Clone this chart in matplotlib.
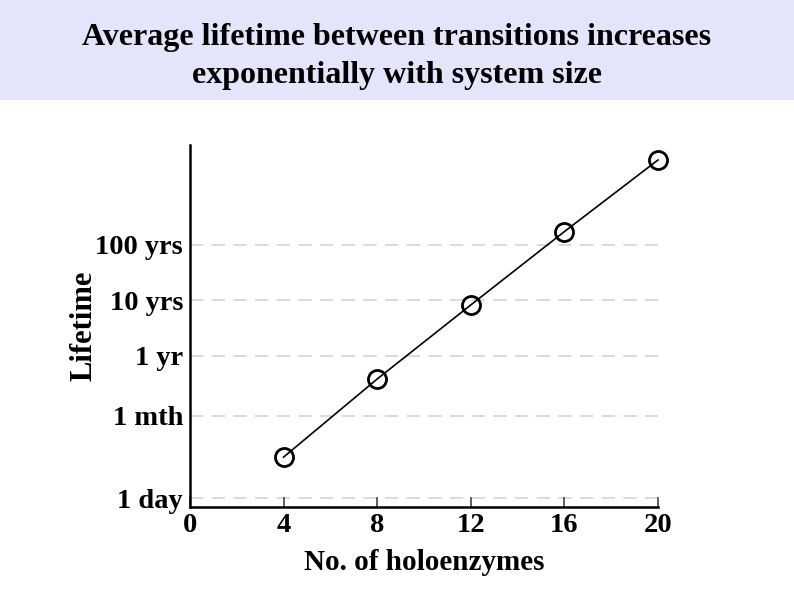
import matplotlib
matplotlib.use("Agg")
import matplotlib.pyplot as plt
import numpy as np

# Lifetime values, in years
n_holo = [4, 8, 12, 16, 20]
lifetime_yrs = [0.0151, 0.385, 8.3, 174, 3390]

tick_vals = [1 / 365.0, 1 / 12.0, 1.0, 10.0, 100.0]
tick_labels = ["1 day", "1 mth", "1 yr", "10 yrs", "100 yrs"]
x_ticks = [0, 4, 8, 12, 16, 20]

plt.rcParams['font.family'] = ['Liberation Serif', 'DejaVu Serif']
plt.rcParams['font.weight'] = 'bold'

fig = plt.figure(figsize=(7.94, 5.95), dpi=100)

# title band
band = fig.add_axes([0, 1 - 100 / 595, 1, 100 / 595])
band.set_facecolor('#e4e4fa')
band.set_xticks([])
band.set_yticks([])
for s in band.spines.values():
    s.set_visible(False)
fig.text(0.5, 1 - 37 / 595, "Average lifetime between transitions increases",
         ha='center', va='center', fontsize=23, fontweight='bold')
fig.text(0.5, 1 - 75 / 595, "exponentially with system size",
         ha='center', va='center', fontsize=23, fontweight='bold')

ax = fig.add_axes([190 / 794, 88 / 595, 468 / 794, 362 / 595])
ax.set_yscale('log')
ax.set_xlim(0, 20)
ax.set_ylim(10 ** -2.72, 10 ** 3.80)

for v in tick_vals:
    ax.axhline(v, color='#d4d4d4', lw=1.2, ls=(0, (8, 5)), zorder=1)

ax.plot(n_holo, lifetime_yrs, color='black', lw=1.2, marker='o', ms=13,
        mfc='none', mec='black', mew=2, clip_on=False, zorder=3)

ax.set_yticks(tick_vals)
ax.set_yticklabels(tick_labels)
ax.yaxis.set_minor_locator(matplotlib.ticker.NullLocator())
ax.tick_params(axis='y', length=0, pad=5, labelsize=20.5)
ax.set_xticks(x_ticks)
ax.tick_params(axis='x', direction='in', length=7, width=1.2, color='#444444',
               pad=4, labelsize=20.5)

ax.spines['top'].set_visible(False)
ax.spines['right'].set_visible(False)
ax.spines['left'].set_linewidth(1.8)
ax.spines['bottom'].set_linewidth(1.8)

ax.set_xlabel("No. of holoenzymes", fontsize=21, fontweight='bold', labelpad=0)
ax.set_ylabel("Lifetime", fontsize=22, fontweight='bold', labelpad=8)
ax.xaxis.set_label_coords(0.5, -0.115)
ax.yaxis.set_label_coords(-0.195, 0.5)

fig.savefig("out.png", dpi=100)
